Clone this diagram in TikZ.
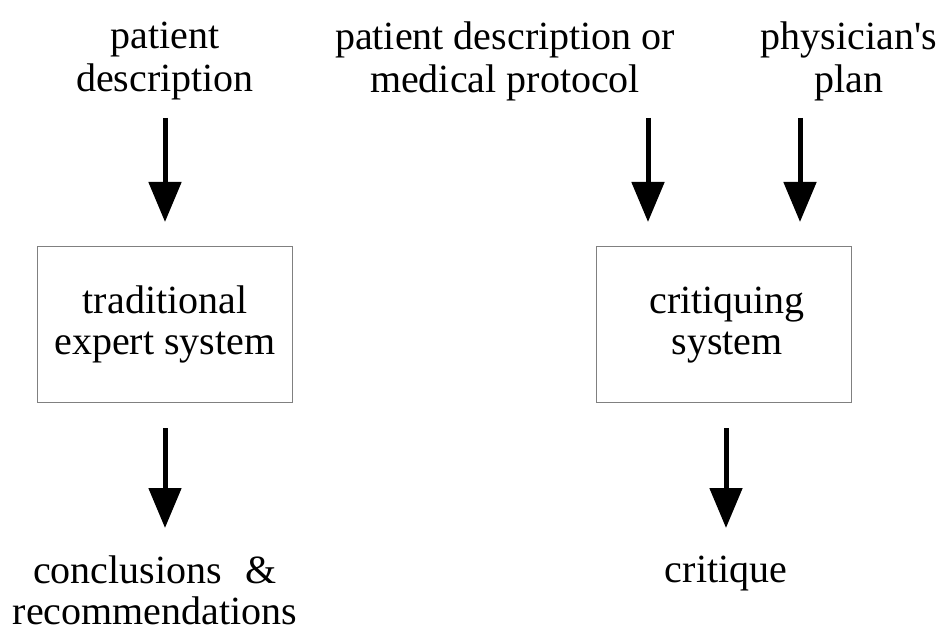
\documentclass[tikz,border=0pt]{standalone}
\usepackage{fontspec}
\setmainfont{Liberation Serif}
\usetikzlibrary{arrows.meta}
\begin{document}
\begin{tikzpicture}[x=1pt,y=-1pt,
  lbl/.style={align=center,inner sep=0pt,font=\fontsize{40}{43}\selectfont},
  boxtxt/.style={align=center,inner sep=0pt,font=\fontsize{40}{41}\selectfont},
  sysbox/.style={draw=black!50,line width=0.9pt,minimum width=255pt,minimum height=156pt,inner sep=0pt},
  flow/.style={line width=5pt,-{Triangle[width=32pt,length=40pt]}}]
\useasboundingbox (0,0) rectangle (950,631);
% top labels
\node[lbl] (pd) at (165,61) {patient\\description};
\node[lbl] (pdmp) at (505,61) {patient description or\\medical protocol};
\node[lbl] (pp) at (849,61) {physician\textquotesingle s\\plan};
% boxes
\node[sysbox] (tesbox) at (164.5,324) {};
\node[boxtxt] (tes) at (165,324) {traditional\\expert system};
\node[sysbox] (csbox) at (724,324) {};
\node[boxtxt] (cs) at (727,325) {critiquing\\system};
% bottom labels
\node[lbl,font=\fontsize{40}{41}\selectfont] (cr) at (155,590) {conclusions\hspace{0.35em} \&\\recommendations};
\node[lbl,anchor=base] (crit) at (726,582) {critique};
% arrow coordinates
\coordinate (a1s) at (165,118); \coordinate (a1e) at (165,222);
\coordinate (a2s) at (648,118); \coordinate (a2e) at (648,222);
\coordinate (a3s) at (800,118); \coordinate (a3e) at (800,222);
\coordinate (a4s) at (165,428); \coordinate (a4e) at (165,528);
\coordinate (a5s) at (726,428); \coordinate (a5e) at (726,528);
\draw[flow] (a1s) -- (a1e);
\draw[flow] (a2s) -- (a2e);
\draw[flow] (a3s) -- (a3e);
\draw[flow] (a4s) -- (a4e);
\draw[flow] (a5s) -- (a5e);
\end{tikzpicture}
\end{document}
